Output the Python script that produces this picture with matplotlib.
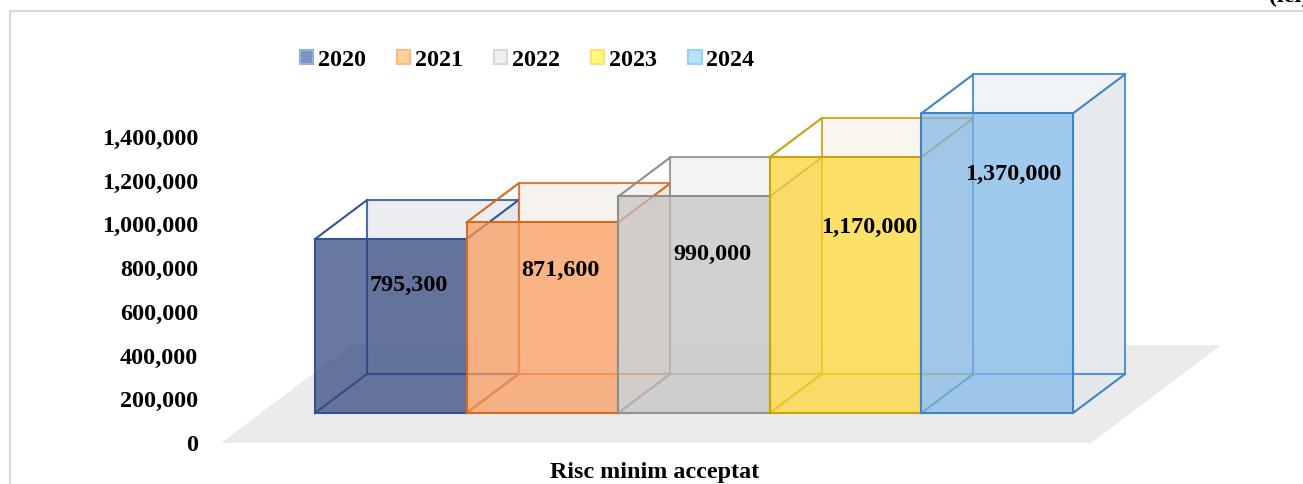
import matplotlib
matplotlib.use('Agg')
import matplotlib.pyplot as plt
from matplotlib.lines import Line2D
from matplotlib.patches import Patch
from matplotlib.transforms import ScaledTranslation

# data
years = ['2020', '2021', '2022', '2023', '2024']
risk_values = [795300, 871600, 990000, 1170000, 1370000]
y_ticks = [0, 200000, 400000, 600000, 800000, 1000000, 1200000, 1400000]
category = 'Risc minim acceptat'

# colours per year
edge_colors = ['#2f5597', '#d9681f', '#8f8f8f', '#c9a211', '#3f85c6']
front_colors = ['#294079', '#fc9a58', '#c4c2c2', '#ffd72f', '#7db7ea']
wall_colors = ['#e6e8ec', '#f4eee9', '#f0f0f0', '#f8f4ea', '#edf1f5']
side_colors = ['#e3e4e8', '#eee6e0', '#e9e9e9', '#f1ecdf', '#e2e7ec']
legend_faces = ['#7f93bd', '#fdd09b', '#efefef', '#fff77e', '#b8e3fd']
legend_edges = ['#93b1e0', '#fdb97f', '#d9d9d9', '#ffe26e', '#94d0f7']

plt.rcParams['font.family'] = ['Liberation Serif', 'DejaVu Serif']
plt.rcParams['font.weight'] = 'bold'
plt.rcParams['font.size'] = 17.4

W, H = 1303, 485
fig = plt.figure(figsize=(W / 100, H / 100), dpi=100)

# axes: value 0 sits on pixel row 444, one bar is 151.6 px wide
ax = fig.add_axes([205 / W, (H - 444) / H, 1025 / W, 430 / H])
ax.set_xlim((205 - 315) / 151.6, (1230 - 315) / 151.6)
ax.set_ylim(0, 430 / 218.7e-6)
for s in ax.spines.values():
    s.set_visible(False)

base = 30 / 218.7e-6  # bars stand 30 px above the axis zero
depth_x = 52 / 151.6
depth_y = 39 / 218.7e-6

# floor
floor_back = 98 / 218.7e-6
ax.fill([-0.62, 5.12, 5.12 + 0.857, -0.62 + 0.857], [0, 0, floor_back, floor_back],
        color='#ebebeb', lw=0, zorder=1)

# boxes, left to right so the later ones lie over the earlier ones
for i, val in enumerate(risk_values):
    z = 2 + i
    top = base + val
    lw = 1.5
    ec = edge_colors[i]
    # back wall, top face, side face
    ax.fill([i + depth_x, i + 1 + depth_x, i + 1 + depth_x, i + depth_x],
            [base + depth_y, base + depth_y, top + depth_y, top + depth_y],
            color=wall_colors[i], alpha=0.75, lw=0, zorder=z)
    ax.fill([i + 1, i + 1 + depth_x, i + 1 + depth_x, i + 1],
            [base, base + depth_y, top + depth_y, top],
            color=side_colors[i], alpha=0.75, lw=0, zorder=z)
    # back edges
    ax.plot([i + depth_x, i + depth_x, i + 1 + depth_x, i + 1 + depth_x, i + depth_x],
            [base + depth_y, top + depth_y, top + depth_y, base + depth_y, base + depth_y],
            color=ec, lw=lw, alpha=0.85, zorder=z, clip_on=False)
    ax.plot([i, i + depth_x], [base, base + depth_y], color=ec, lw=lw, alpha=0.85, zorder=z)
    # front face
    ax.bar(i, val, bottom=base, width=1, align='edge', color=front_colors[i], alpha=0.7,
           lw=0, zorder=z)
    ax.plot([i, i, i + 1, i + 1, i], [base, top, top, base, base], color=ec, lw=lw, zorder=z)
    ax.plot([i, i + depth_x], [top, top + depth_y], color=ec, lw=lw, zorder=z)
    ax.plot([i + 1, i + 1 + depth_x], [top, top + depth_y], color=ec, lw=lw, zorder=z)
    ax.plot([i + 1, i + 1 + depth_x], [base, base + depth_y], color=ec, lw=lw, zorder=z)

# value labels, nudged by hand in pixels
nudges = [(18, -2), (18, 1), (18, -3), (24, -5), (16, 15)]
for i, val in enumerate(risk_values):
    ax.annotate(f'{val:,}', (i + 0.5, base + val * 0.75), xytext=nudges[i],
                textcoords='offset pixels', ha='center', va='center', zorder=20)

ax.set_yticks(y_ticks)
ax.set_yticklabels([f'{t:,}' for t in y_ticks])
ax.set_xticks([(655 - 315) / 151.6])
ax.set_xticklabels([category])
ax.tick_params(axis='y', length=0, pad=5)
ax.tick_params(axis='x', length=0, pad=13)

# tick labels sit 1 px higher than the floor edge
up_1px = ScaledTranslation(0, 1 / 100, fig.dpi_scale_trans)
for lbl in ax.get_yticklabels():
    lbl.set_transform(lbl.get_transform() + up_1px)

# legend
handles = [Patch(facecolor=f, edgecolor=e, lw=1.5) for f, e in zip(legend_faces, legend_edges)]
fig.legend(handles, years, loc='center left', bbox_to_anchor=(300 / W, (H - 61) / H),
           ncol=5, frameon=False, handlelength=0.55, handleheight=0.55, handletextpad=0.2,
           columnspacing=1.28, borderpad=0, borderaxespad=0)

# chart frame, cropped on the right and bottom
fig.add_artist(Line2D([10 / W, 10 / W, 1], [0, (H - 12) / H, (H - 12) / H], color='#d9d9d9', lw=1.5))
# unit note, the picture only shows its lower edge
fig.text(1269 / W, (H - 2) / H, '(lei)', fontsize=17.4, ha='left', va='baseline')

fig.savefig('out.png', dpi=100)
